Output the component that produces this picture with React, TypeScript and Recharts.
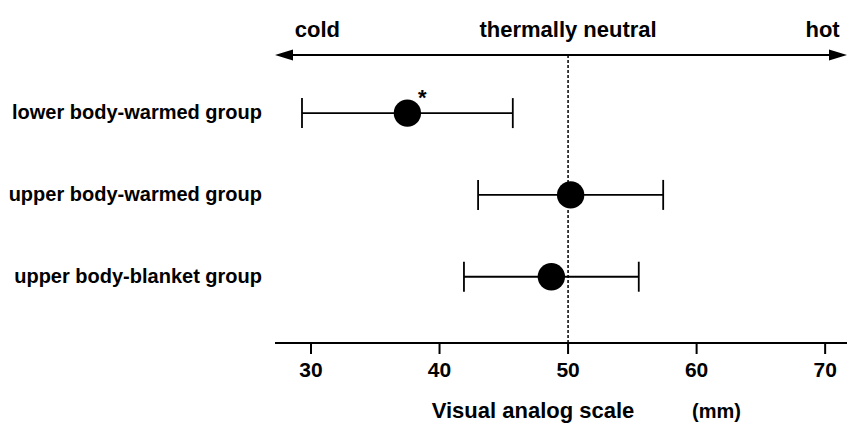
import { ScatterChart, Scatter, XAxis, YAxis, ErrorBar, ReferenceLine } from 'recharts';

// groups, bottom to top
const groups = ['upper body-blanket group', 'upper body-warmed group', 'lower body-warmed group'];
const levels = [1, 2, 3];
const means = [48.7, 50.2, 37.5];
const errors = [6.8, 7.2, 8.2];
const marks = ['', '', '*'];

const xTicks = [30, 40, 50, 60, 70];
const topLabels = ['cold', 'thermally neutral', 'hot'];
const topLabelAt = [30.5, 50, 69.8];
const neutral = 50;

const X_DOMAIN: [number, number] = [27.2, 71.7];
const Y_DOMAIN: [number, number] = [0.19, 3.71];

const FONT = '"Liberation Sans", Arial, Helvetica, sans-serif';

const data = groups.map((g, i) => ({ name: g, x: means[i], y: levels[i], err: errors[i], mark: marks[i] }));

function Dot(props: any) {
	const { cx, cy, payload } = props;
	return (
		<g>
			<circle cx={cx} cy={cy} r={13.7} fill="#000" />
			{payload.mark ? (
				<text x={cx + 15} y={cy - 8} textAnchor="middle" fontSize={22} fontWeight={700} fontFamily={FONT} fill="#000">
					{payload.mark}
				</text>
			) : null}
		</g>
	);
}

function GroupTick(props: any) {
	const { x, y, payload } = props;
	return (
		<text x={x} y={y + 6} textAnchor="end" fontSize={20} fontWeight={700} fontFamily={FONT} fill="#000">
			{groups[levels.indexOf(payload.value)]}
		</text>
	);
}

// double-headed arrow across the top of the plot
function Arrow(props: any) {
	const { x1, y1, x2, y2 } = props;
	return (
		<g>
			<line x1={x1 + 6} y1={y1} x2={x2 - 6} y2={y2} stroke="#000" strokeWidth={2} />
			<path d={`M${x1},${y1} L${x1 + 18},${y1 - 5.5} L${x1 + 18},${y1 + 5.5} Z`} fill="#000" />
			<path d={`M${x2},${y2} L${x2 - 18},${y2 - 5.5} L${x2 - 18},${y2 + 5.5} Z`} fill="#000" />
		</g>
	);
}

function AxisTitle() {
	return (
		<g fontFamily={FONT} fontWeight={700} fill="#000">
			<text x={533} y={418} textAnchor="middle" fontSize={22}>Visual analog scale</text>
			<text x={692} y={418} textAnchor="start" fontSize={20}>(mm)</text>
		</g>
	);
}

export default function App() {
	return (
		<div style={{ position: 'absolute', left: 0, top: 0, background: '#fff' }}>
			<ScatterChart width={847} height={423} margin={{ top: 0, right: 0, bottom: 0, left: 0 }}>
				<XAxis
					xAxisId="top"
					orientation="top"
					type="number"
					dataKey="x"
					domain={X_DOMAIN}
					ticks={topLabelAt}
					tickFormatter={(v: number) => topLabels[topLabelAt.indexOf(v)]}
					height={55}
					axisLine={false}
					tickLine={false}
					tickSize={0}
					tickMargin={18}
					allowDataOverflow
					tick={{ fontSize: 22, fontWeight: 700, fontFamily: FONT, fill: '#000' }}
				/>
				<XAxis
					type="number"
					dataKey="x"
					domain={X_DOMAIN}
					ticks={xTicks}
					height={80}
					allowDataOverflow
					axisLine={{ stroke: '#000', strokeWidth: 2 }}
					tickLine={{ stroke: '#000', strokeWidth: 2 }}
					tickSize={11}
					tickMargin={8}
					tick={{ fontSize: 21, fontWeight: 700, fontFamily: FONT, fill: '#000' }}
					label={AxisTitle}
				/>
				<YAxis
					type="number"
					dataKey="y"
					domain={Y_DOMAIN}
					ticks={levels}
					width={275}
					axisLine={false}
					tickLine={false}
					tickSize={0}
					tickMargin={13}
					allowDataOverflow
					tick={GroupTick}
				/>
				<ReferenceLine x={neutral} stroke="#000" strokeWidth={1.5} strokeDasharray="3 2" />
				<ReferenceLine y={Y_DOMAIN[1]} shape={Arrow} />
				<Scatter data={data} shape={Dot} isAnimationActive={false}>
					<ErrorBar dataKey="err" direction="x" width={15} stroke="#000" strokeWidth={1.8} />
				</Scatter>
			</ScatterChart>
		</div>
	);
}
